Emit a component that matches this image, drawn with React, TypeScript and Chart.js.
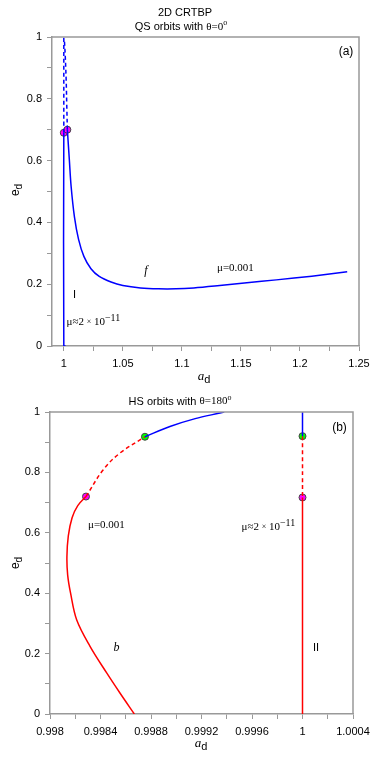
import React, { useEffect, useRef } from "react";
import { Chart, registerables } from "chart.js";

Chart.register(...registerables);

// ---------- Panel (a) data ----------
const topFSolidA = [1.003, 1.0047, 1.0062, 1.009, 1.0125, 1.017, 1.023, 1.03, 1.04, 1.05, 1.065, 1.08, 1.095, 1.11, 1.13, 1.155, 1.18, 1.21, 1.24];
const topFSolidE = [0.7, 0.602, 0.516, 0.418, 0.345, 0.29, 0.25, 0.225, 0.207, 0.196, 0.188, 0.185, 0.185, 0.188, 0.195, 0.205, 0.214, 0.226, 0.24];
const topFDashA = [1.003, 1.0025, 1.002, 1.0012, 1.0005];
const topFDashE = [0.7, 0.78, 0.86, 0.94, 0.99];
const topISolidA = [1.0015, 1.0, 1.0];
const topISolidE = [0.0, 0.0, 0.69];
const topIDashA = [1.0, 1.0];
const topIDashE = [0.69, 1.0];
const topMagA = [1.0, 1.003];
const topMagE = [0.69, 0.7];
const topXMajor = [1, 1.05, 1.1, 1.15, 1.2, 1.25];
const topXMajorLabels = ["1", "1.05", "1.1", "1.15", "1.2", "1.25"];
const topXMinor = [1.025, 1.075, 1.125, 1.175, 1.225];

// ---------- Panel (b) data ----------
const botBRedA = [0.998668, 0.998554, 0.998449, 0.998317, 0.998211, 0.998163, 0.99814, 0.998134, 0.998145, 0.998175, 0.99822, 0.998285];
const botBRedE = [0.0, 0.0695, 0.136, 0.224, 0.312, 0.4, 0.46, 0.52, 0.59, 0.65, 0.69, 0.72];
const botBDashA = [0.998285, 0.998422, 0.998554, 0.998752];
const botBDashE = [0.72, 0.809, 0.864, 0.918];
const botBBlueA = [0.998752, 0.99895, 0.99915, 0.999346, 0.99938];
const botBBlueE = [0.918, 0.952, 0.978, 0.9967, 1.0];
const botIIBlueA = [1.0, 1.0];
const botIIBlueE = [1.0, 0.92];
const botIIDashA = [1.0, 1.0];
const botIIDashE = [0.92, 0.717];
const botIIRedA = [1.0, 1.0];
const botIIRedE = [0.717, 0.0];
const botMagA = [0.998285, 1.0];
const botMagE = [0.72, 0.717];
const botGreenA = [0.998752, 1.0];
const botGreenE = [0.918, 0.92];
const botXMajor = [0.998, 0.9984, 0.9988, 0.9992, 0.9996, 1, 1.0004];
const botXMajorLabels = ["0.998", "0.9984", "0.9988", "0.9992", "0.9996", "1", "1.0004"];
const botXMinor = [0.9982, 0.9986, 0.999, 0.9994, 0.9998, 1.0002];

// ---------- shared y ticks ----------
const yMajor = [0, 0.2, 0.4, 0.6, 0.8, 1];
const yMajorLabels = ["0", "0.2", "0.4", "0.6", "0.8", "1"];
const yMinor = [0.1, 0.3, 0.5, 0.7, 0.9];

const SANS = '"Liberation Sans", Arial, sans-serif';
const SERIF = '"Liberation Serif", "Times New Roman", serif';
const BLUE = "#0000ff";
const RED = "#ff0000";
const AXIS = "#999999";

const pts = (xs: number[], ys: number[]) => xs.map((x, i) => ({ x, y: ys[i] }));

type Seg = { t: string; f: string; dy?: number };
function drawRich(ctx: CanvasRenderingContext2D, segs: Seg[], x: number, y: number, align: "left" | "center") {
  ctx.save();
  ctx.textBaseline = "middle";
  ctx.textAlign = "left";
  ctx.fillStyle = "#000";
  let total = 0;
  const ws: number[] = [];
  for (const s of segs) {
    ctx.font = s.f;
    const w = ctx.measureText(s.t).width;
    ws.push(w);
    total += w;
  }
  let cx = align === "center" ? x - total / 2 : x;
  segs.forEach((s, i) => {
    ctx.font = s.f;
    ctx.fillText(s.t, cx, y + (s.dy || 0));
    cx += ws[i];
  });
  ctx.restore();
}

function drawRotated(ctx: CanvasRenderingContext2D, segs: Seg[], x: number, y: number) {
  ctx.save();
  ctx.translate(x, y);
  ctx.rotate(-Math.PI / 2);
  drawRich(ctx, segs, 0, 0, "center");
  ctx.restore();
}

const muSmall = (): Seg[] => [
  { t: "μ≈2 ", f: `11px ${SERIF}` },
  { t: "×", f: `8px ${SERIF}` },
  { t: " 10", f: `11px ${SERIF}` },
  { t: "−11", f: `10px ${SERIF}`, dy: -4 },
];

function tickBuilder(major: number[], minor: number[]) {
  return (scale: any) => {
    const all = [...major, ...minor].sort((a, b) => a - b);
    scale.ticks = all.map((v) => ({ value: v }));
  };
}
function tickLabel(major: number[], labels: string[]) {
  return (value: any) => {
    const v = Number(value);
    const i = major.findIndex((m) => Math.abs(m - v) < 1e-9);
    return i >= 0 ? labels[i] : "";
  };
}

function axisCommon(min: number, max: number, major: number[], labels: string[], minor: number[], isY: boolean) {
  return {
    type: "linear",
    min,
    max,
    afterBuildTicks: tickBuilder(major, minor),
    afterFit: (scale: any) => {
      if (isY) {
        scale.width = 40;
        scale.paddingTop = 0;
        scale.paddingBottom = 0;
      } else {
        scale.height = 30;
        scale.paddingLeft = 0;
        scale.paddingRight = 0;
      }
    },
    ticks: {
      autoSkip: false,
      maxRotation: 0,
      minRotation: 0,
      padding: isY ? 5 : 6,
      color: "#000",
      font: { family: SANS, size: 11 },
      callback: tickLabel(major, labels),
    },
    grid: {
      display: true,
      drawOnChartArea: false,
      drawTicks: true,
      tickLength: 5,
      color: AXIS,
      lineWidth: 1,
    },
    border: { display: true, color: AXIS, width: 1.5 },
    title: { display: false },
  };
}

const lineDs = (data: any[], color: string, dashed: boolean) => ({
  data,
  showLine: true,
  borderColor: color,
  backgroundColor: color,
  borderWidth: 1.5,
  borderDash: dashed ? [4, 3] : [],
  pointRadius: 0,
  pointHoverRadius: 0,
  tension: 0.35,
  fill: false,
});

const pointDs = (data: any[], color: string) => ({
  data,
  showLine: false,
  pointRadius: 3.5,
  pointBorderWidth: 1,
  pointBackgroundColor: color,
  pointBorderColor: "#444444",
  backgroundColor: color,
  borderColor: "#444444",
});

function framePlugin(drawText: (ctx: CanvasRenderingContext2D, chart: any) => void) {
  return {
    id: "frameText",
    afterDraw(chart: any) {
      const { ctx, chartArea } = chart;
      ctx.save();
      ctx.strokeStyle = AXIS;
      ctx.lineWidth = 1.5;
      ctx.beginPath();
      ctx.moveTo(chartArea.left, chartArea.top);
      ctx.lineTo(chartArea.right, chartArea.top);
      ctx.lineTo(chartArea.right, chartArea.bottom);
      ctx.stroke();
      ctx.restore();
      drawText(ctx, chart);
    },
  };
}

function useChart(ref: React.RefObject<HTMLCanvasElement | null>, make: () => any) {
  useEffect(() => {
    if (!ref.current) return;
    const chart = new Chart(ref.current, make());
    return () => chart.destroy();
  }, []);
}

function TopChart() {
  const ref = useRef<HTMLCanvasElement | null>(null);
  useChart(ref, () => ({
    type: "scatter",
    data: {
      datasets: [
        lineDs(pts(topISolidA, topISolidE), BLUE, false),
        lineDs(pts(topIDashA, topIDashE), BLUE, true),
        lineDs(pts(topFSolidA, topFSolidE), BLUE, false),
        lineDs(pts(topFDashA, topFDashE), BLUE, true),
        pointDs(pts(topMagA, topMagE), "#ff00ff"),
      ],
    },
    options: {
      responsive: false,
      animation: false,
      devicePixelRatio: 1,
      layout: { padding: { left: 12, right: 15, top: 37, bottom: 9 } },
      plugins: { legend: { display: false }, tooltip: { enabled: false }, title: { display: false } },
      scales: {
        x: axisCommon(0.99, 1.25, topXMajor, topXMajorLabels, topXMinor, false),
        y: axisCommon(0, 1, yMajor, yMajorLabels, yMinor, true),
      },
    },
    plugins: [
      framePlugin((ctx) => {
        drawRich(ctx, [{ t: "2D CRTBP", f: `11px ${SANS}` }], 185, 12.5, "center");
        drawRich(
          ctx,
          [
            { t: "QS orbits with ", f: `11px ${SANS}` },
            { t: "θ=0", f: `11px ${SERIF}` },
            { t: "o", f: `8px ${SERIF}`, dy: -4 },
          ],
          181,
          27,
          "center"
        );
        drawRich(ctx, [{ t: "(a)", f: `12px ${SANS}` }], 346, 52, "center");
        drawRich(ctx, [{ t: "f", f: `italic 12px ${SERIF}` }], 146, 271, "center");
        drawRich(ctx, [{ t: "μ=0.001", f: `11px ${SERIF}` }], 217, 268, "left");
        drawRich(ctx, [{ t: "I", f: `11px ${SANS}` }], 74.5, 295, "center");
        drawRich(ctx, muSmall(), 66.5, 322, "left");
        drawRich(
          ctx,
          [
            { t: "a", f: `italic 13px ${SERIF}` },
            { t: "d", f: `11px ${SANS}`, dy: 3 },
          ],
          204,
          377,
          "center"
        );
        drawRotated(
          ctx,
          [
            { t: "e", f: `12px ${SANS}` },
            { t: "d", f: `10px ${SANS}`, dy: 3 },
          ],
          16,
          190
        );
      }),
    ],
  }));
  return <canvas ref={ref} width={374} height={385} style={{ position: "absolute", left: 0, top: 0, width: 374, height: 385, display: "block" }} />;
}

function BottomChart() {
  const ref = useRef<HTMLCanvasElement | null>(null);
  useChart(ref, () => ({
    type: "scatter",
    data: {
      datasets: [
        lineDs(pts(botBRedA, botBRedE), RED, false),
        lineDs(pts(botBDashA, botBDashE), RED, true),
        lineDs(pts(botBBlueA, botBBlueE), BLUE, false),
        lineDs(pts(botIIBlueA, botIIBlueE), BLUE, false),
        lineDs(pts(botIIDashA, botIIDashE), RED, true),
        lineDs(pts(botIIRedA, botIIRedE), RED, false),
        pointDs(pts(botMagA, botMagE), "#ff00ff"),
        pointDs(pts(botGreenA, botGreenE), "#00ff00"),
      ],
    },
    options: {
      responsive: false,
      animation: false,
      devicePixelRatio: 1,
      layout: { padding: { left: 10, right: 21, top: 27, bottom: 14 } },
      plugins: { legend: { display: false }, tooltip: { enabled: false }, title: { display: false } },
      scales: {
        x: axisCommon(0.998, 1.0004, botXMajor, botXMajorLabels, botXMinor, false),
        y: axisCommon(0, 1, yMajor, yMajorLabels, yMinor, true),
      },
    },
    plugins: [
      framePlugin((ctx) => {
        drawRich(
          ctx,
          [
            { t: "HS orbits with ", f: `11px ${SANS}` },
            { t: "θ=180", f: `11px ${SERIF}` },
            { t: "o", f: `8px ${SERIF}`, dy: -4 },
          ],
          180,
          16.5,
          "center"
        );
        drawRich(ctx, [{ t: "(b)", f: `12px ${SANS}` }], 339.5, 43, "center");
        drawRich(ctx, [{ t: "μ=0.001", f: `11px ${SERIF}` }], 88, 140, "left");
        drawRich(ctx, muSmall(), 241.5, 142, "left");
        drawRich(ctx, [{ t: "b", f: `italic 12px ${SERIF}` }], 116.5, 263, "center");
        drawRich(ctx, [{ t: "II", f: `11px ${SANS}` }], 316, 263, "center");
        drawRich(
          ctx,
          [
            { t: "a", f: `italic 13px ${SERIF}` },
            { t: "d", f: `11px ${SANS}`, dy: 3 },
          ],
          201,
          359,
          "center"
        );
        drawRotated(
          ctx,
          [
            { t: "e", f: `12px ${SANS}` },
            { t: "d", f: `10px ${SANS}`, dy: 3 },
          ],
          16,
          178
        );
      }),
    ],
  }));
  return <canvas ref={ref} width={374} height={373} style={{ position: "absolute", left: 0, top: 385, width: 374, height: 373, display: "block" }} />;
}

export default function App() {
  return (
    <div style={{ position: "fixed", left: 0, top: 0, width: 374, height: 758, background: "#fff", overflow: "hidden" }}>
      <TopChart />
      <BottomChart />
    </div>
  );
}
